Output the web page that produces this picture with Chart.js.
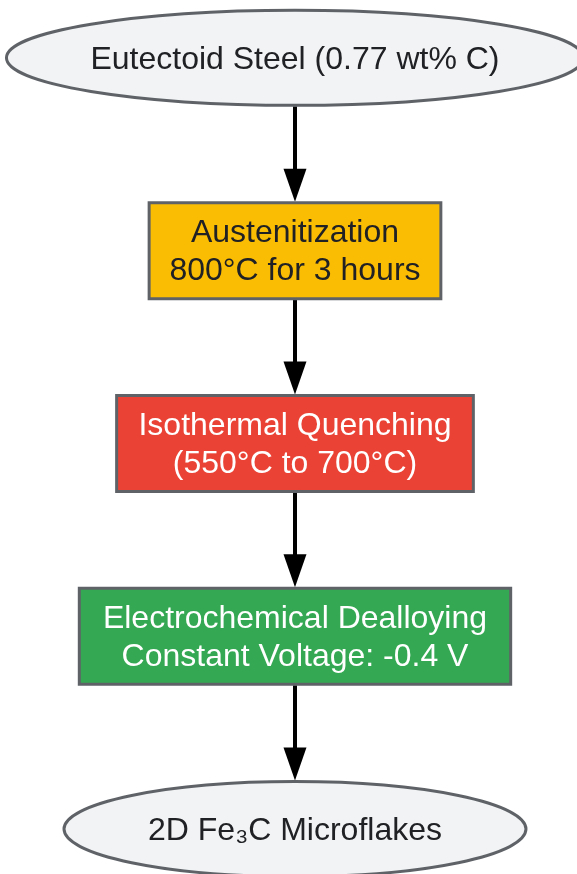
<!DOCTYPE html>
<html>
<head>
<meta charset="utf-8">
<script src="https://cdn.jsdelivr.net/npm/chart.js@4/dist/chart.umd.min.js"></script>
<style>
  html, body { margin: 0; padding: 0; background: #ffffff; }
  #c { display: block; }
</style>
</head>
<body>
<canvas id="c" width="577" height="874"></canvas>
<script>
// Flowchart steps (top to bottom)
const stepLabels = [
  ["Eutectoid Steel (0.77 wt% C)"],
  ["Austenitization", "800°C for 3 hours"],
  ["Isothermal Quenching", "(550°C to 700°C)"],
  ["Electrochemical Dealloying", "Constant Voltage: -0.4 V"],
  ["2D Fe\u2083C Microflakes"]
];
const stepRanks = [0, 1, 2, 3, 4];
const stepShapes = ["ellipse", "box", "box", "box", "ellipse"];
const stepFills = ["#f1f3f4", "#fbbc04", "#ea4335", "#34a853", "#f1f3f4"];
const stepTextColors = ["#202124", "#202124", "#ffffff", "#ffffff", "#202124"];

const FONT = '32px "Liberation Sans", Arial, sans-serif';

const flowPlugin = {
  id: 'flow',
  afterDatasetsDraw(chart) {
    const ctx = chart.ctx;
    const meta = chart.getDatasetMeta(0);
    ctx.save();
    ctx.font = FONT;
    const nodes = meta.data.map((pt, i) => {
      const lines = stepLabels[i];
      const tw = Math.max(...lines.map(l => ctx.measureText(l).width));
      let w, h;
      if (stepShapes[i] === 'ellipse') {
        w = tw + 168; h = 95;
      } else {
        w = tw * 1.05 + 28; h = 96;
      }
      return { x: pt.x, y: pt.y, w, h, lines, i };
    });
    // arrows
    ctx.strokeStyle = '#000000';
    ctx.fillStyle = '#000000';
    ctx.lineWidth = 4;
    for (let k = 0; k < nodes.length - 1; k++) {
      const a = nodes[k], b = nodes[k + 1];
      const y0 = a.y + a.h / 2 + 1;
      const y1 = b.y - b.h / 2 - 1;
      const headLen = 33, halfW = 11.5;
      ctx.beginPath();
      ctx.moveTo(a.x, y0);
      ctx.lineTo(a.x, y1 - headLen + 2);
      ctx.stroke();
      ctx.beginPath();
      ctx.moveTo(b.x, y1);
      ctx.lineTo(b.x - halfW, y1 - headLen);
      ctx.lineTo(b.x + halfW, y1 - headLen);
      ctx.closePath();
      ctx.fill();
    }
    // nodes
    nodes.forEach(n => {
      ctx.lineWidth = 3;
      ctx.strokeStyle = '#5f6368';
      ctx.fillStyle = stepFills[n.i];
      ctx.beginPath();
      if (stepShapes[n.i] === 'ellipse') {
        ctx.ellipse(n.x, n.y, n.w / 2, n.h / 2, 0, 0, Math.PI * 2);
      } else {
        ctx.rect(n.x - n.w / 2, n.y - n.h / 2, n.w, n.h);
      }
      ctx.fill();
      ctx.stroke();
      ctx.fillStyle = stepTextColors[n.i];
      ctx.textAlign = 'center';
      ctx.textBaseline = 'middle';
      const lh = 38;
      const startY = n.y - (n.lines.length - 1) * lh / 2;
      n.lines.forEach((l, j) => ctx.fillText(l, n.x, startY + j * lh + 2));
    });
    ctx.restore();
  }
};

new Chart(document.getElementById('c'), {
  type: 'scatter',
  data: {
    datasets: [{
      data: stepRanks.map(r => ({ x: 0, y: r })),
      pointRadius: 0,
      pointHoverRadius: 0
    }]
  },
  options: {
    responsive: false,
    animation: false,
    layout: { padding: 0 },
    plugins: { legend: { display: false }, tooltip: { enabled: false } },
    scales: {
      x: { display: false, min: -1, max: 0.956 },
      y: { display: false, reverse: true, min: -0.30, max: 4.233 }
    }
  },
  plugins: [flowPlugin]
});
</script>
</body>
</html>
